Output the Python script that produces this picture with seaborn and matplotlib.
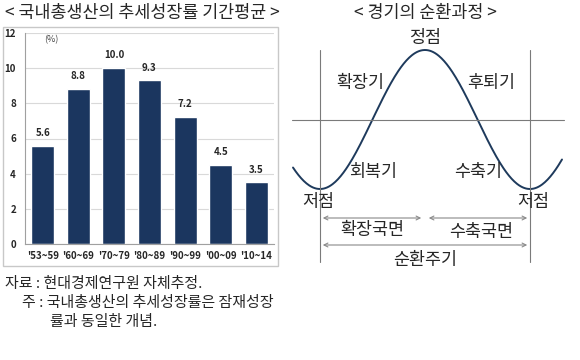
import numpy as np
import matplotlib
matplotlib.use("Agg")
import matplotlib.pyplot as plt
from matplotlib.patches import Rectangle
import seaborn as sns

# --- DATA ---
periods = ["'53~59", "'60~69", "'70~79", "'80~89", "'90~99", "'00~09", "'10~14"]
growth = [5.6, 8.8, 10.0, 9.3, 7.2, 4.5, 3.5]
y_ticks = [0, 2, 4, 6, 8, 10, 12]

# business cycle diagram labels (schematic)
phase_labels = ["확장기", "후퇴기", "회복기", "수축기"]

sns.set_style("white")
plt.rcParams['font.family'] = ['Noto Sans CJK KR', 'DejaVu Sans']

fig = plt.figure(figsize=(5.8, 3.6), dpi=100)
W, H = 580, 360

def fx(px):
    return px / W

def fy(py):
    return 1 - py / H

bar_color = "#1b365f"

# --- LEFT: BAR CHART ---
fig.text(fx(142), fy(13), "< 국내총생산의 추세성장률 기간평균 >", ha="center", va="center", fontsize=12.5)
fig.patches.append(Rectangle((fx(3), fy(266)), fx(275), (266 - 27) / H, transform=fig.transFigure,
                             fill=False, edgecolor="#c8c8c8", linewidth=1.0))

ax = fig.add_axes([fx(25), fy(244), fx(274 - 25), (244 - 33) / H])
sns.barplot(x=periods, y=growth, color=bar_color, width=0.65, saturation=1, ax=ax)
ax.set_ylim(0, 12)
ax.set_xlim(-0.5, len(periods) - 0.5)
ax.set_yticks(y_ticks)
ax.yaxis.grid(True, color="#d9d9d9", linewidth=0.8)
ax.set_axisbelow(True)
for s in ["top", "right"]:
    ax.spines[s].set_visible(False)
for s in ["left", "bottom"]:
    ax.spines[s].set_color("#a0a0a0")
    ax.spines[s].set_linewidth(0.8)
ax.tick_params(axis="y", length=3, color="#a0a0a0", labelsize=7, pad=3.5)
ax.tick_params(axis="x", length=0, labelsize=7, pad=5)
ax.set_xticks(np.arange(len(periods) + 1) - 0.5, minor=True)
ax.tick_params(axis="x", which="minor", length=3, color="#a0a0a0")
for lbl in ax.get_xticklabels() + ax.get_yticklabels():
    lbl.set_fontweight("bold")
for i, v in enumerate(growth):
    ax.text(i, v + 0.45, f"{v:.1f}", ha="center", va="bottom", fontsize=7, fontweight="bold")
ax.text(0.05, 11.6, "(%)", fontsize=6.5, color="#444444", va="center")
ax.set_xlabel("")
ax.set_ylabel("")

fig.text(fx(5), fy(284), "자료 : 현대경제연구원 자체추정.", fontsize=10.8, va="center")
fig.text(fx(22), fy(303), "주 : 국내총생산의 추세성장률은 잠재성장", fontsize=10.8, va="center")
fig.text(fx(50), fy(322), "률과 동일한 개념.", fontsize=10.8, va="center")

# --- RIGHT: BUSINESS CYCLE DIAGRAM ---
dx = fig.add_axes([fx(285), 0, fx(W - 285), 1])
dx.set_xlim(285, W)
dx.set_ylim(H, 0)
dx.axis("off")

dx.text(425, 13, "< 경기의 순환과정 >", ha="center", va="center", fontsize=12.5)

trough_l, trough_r, peak_y, trough_y = 320, 530, 50, 189
xs = np.linspace(293, 562, 300)
mid = (peak_y + trough_y) / 2
amp = (trough_y - peak_y) / 2
ys = mid + amp * np.cos(2 * np.pi * (xs - trough_l) / (trough_r - trough_l))
sns.lineplot(x=xs, y=ys, color="#1e3a5c", linewidth=1.4, ax=dx, sort=False)

line_c = "#7a7a7a"
dx.plot([trough_l, trough_l], [50, 262], color=line_c, linewidth=0.8)
dx.plot([trough_r, trough_r], [50, 262], color=line_c, linewidth=0.8)
dx.plot([292, 564], [120, 120], color=line_c, linewidth=0.8)

arrow_kw = dict(arrowstyle="<->", color="#8a8a8a", linewidth=0.8, mutation_scale=7)
dx.annotate("", xy=(trough_l, 218), xytext=(424, 218), arrowprops=arrow_kw)
dx.annotate("", xy=(426, 218), xytext=(trough_r, 218), arrowprops=arrow_kw)
dx.annotate("", xy=(trough_l, 245), xytext=(trough_r, 245), arrowprops=arrow_kw)

fs = 12.5
dx.text(425, 38, "정점", ha="center", va="center", fontsize=fs)
dx.text(360, 83, phase_labels[0], ha="center", va="center", fontsize=fs)
dx.text(491, 83, phase_labels[1], ha="center", va="center", fontsize=fs)
dx.text(373, 172, phase_labels[2], ha="center", va="center", fontsize=fs)
dx.text(478, 172, phase_labels[3], ha="center", va="center", fontsize=fs)
dx.text(318, 202, "저점", ha="center", va="center", fontsize=fs)
dx.text(533, 202, "저점", ha="center", va="center", fontsize=fs)
dx.text(372, 230, "확장국면", ha="center", va="center", fontsize=fs)
dx.text(481, 232, "수축국면", ha="center", va="center", fontsize=fs)
dx.text(425, 260, "순환주기", ha="center", va="center", fontsize=fs)

fig.savefig("out.png", dpi=100)
